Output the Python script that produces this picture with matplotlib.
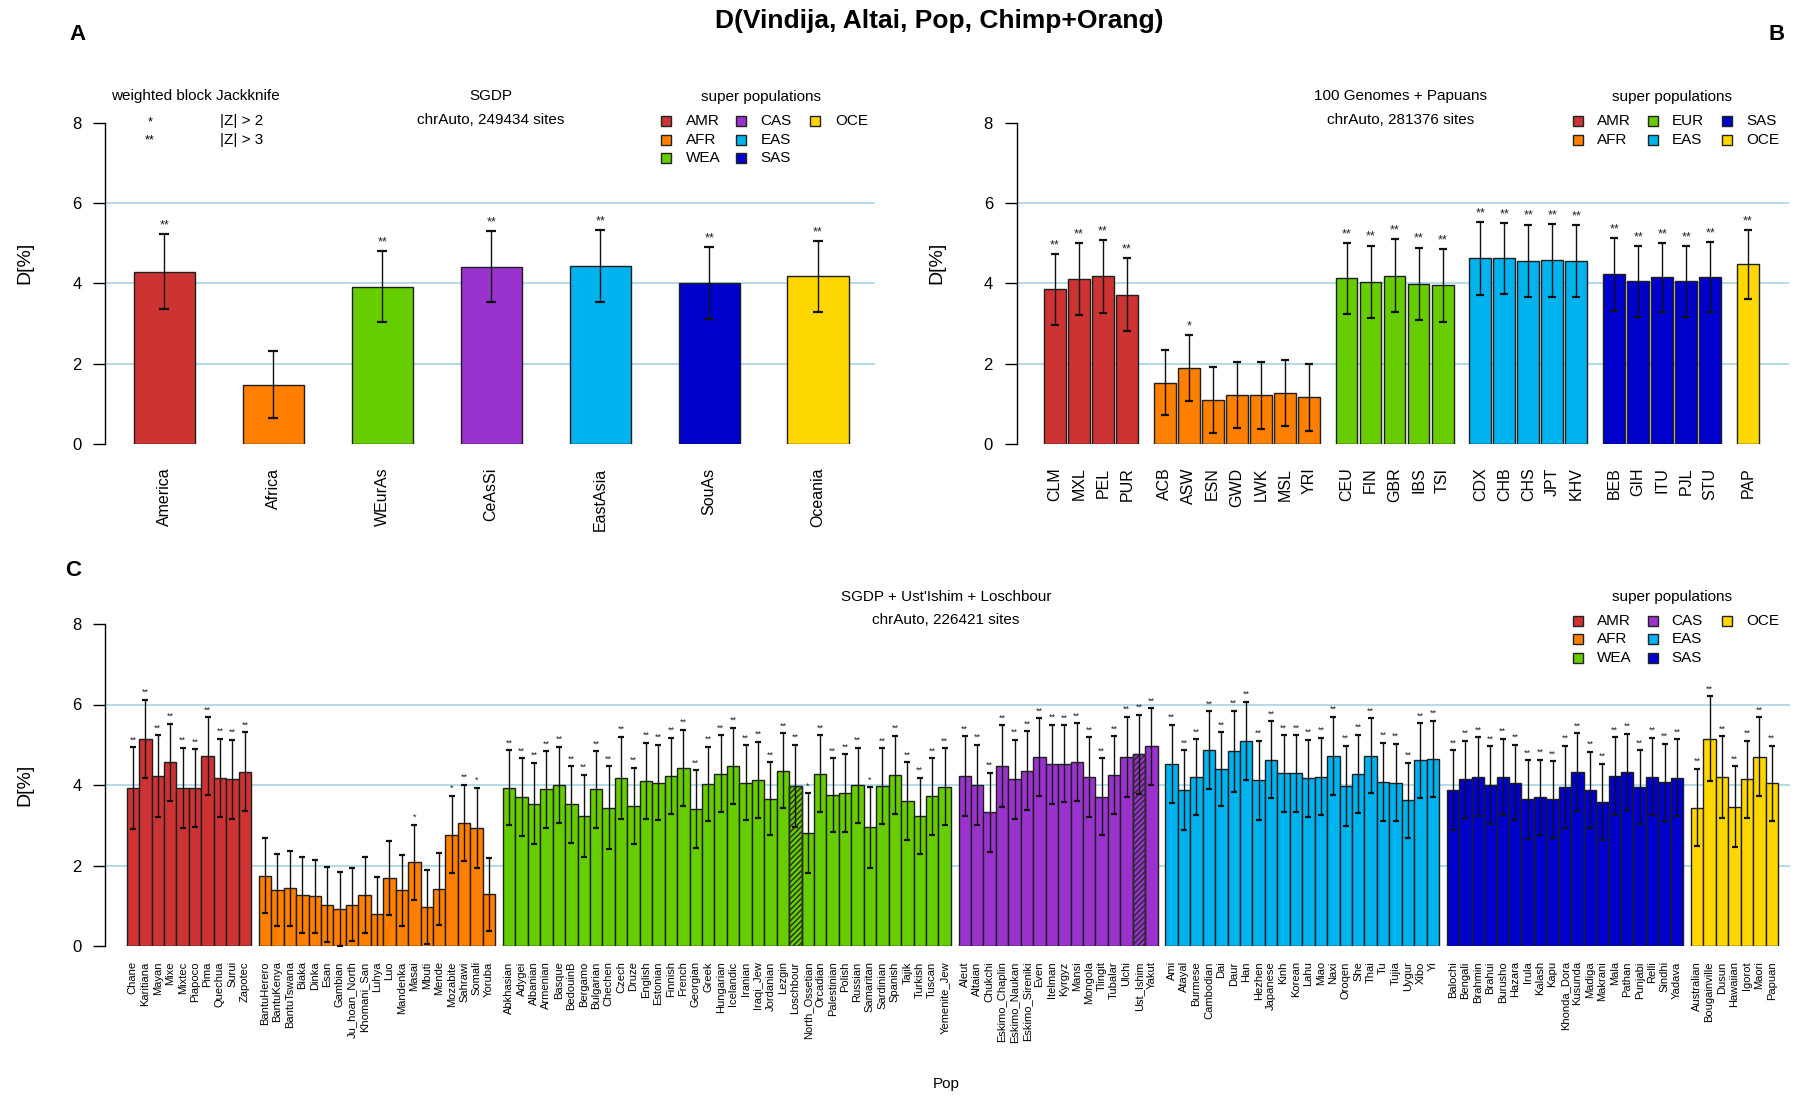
import matplotlib
matplotlib.use('Agg')
import matplotlib.pyplot as plt
from matplotlib.patches import Rectangle

plt.rcParams['font.family'] = ['Liberation Sans', 'DejaVu Sans']

W, H = 1796, 1096

# super population colours (R colour names)
colors = {'AMR': '#CD3333', 'AFR': '#FF7F00', 'WEA': '#66CD00', 'EUR': '#66CD00',
          'CAS': '#9A32CD', 'EAS': '#00B2EE', 'SAS': '#0000CD', 'OCE': '#FFD700'}

# ---------------- panel A : SGDP regions ----------------
a_pops = ['America', 'Africa', 'WEurAs', 'CeAsSi', 'EastAsia', 'SouAs', 'Oceania']
a_sup = ['AMR', 'AFR', 'WEA', 'CAS', 'EAS', 'SAS', 'OCE']
a_d = [4.29, 1.48, 3.92, 4.41, 4.43, 4.00, 4.17]
a_se = [0.93, 0.83, 0.89, 0.88, 0.90, 0.90, 0.88]

# ---------------- panel B : 1000 Genomes + Papuans ----------------
b_amr = ['CLM', 'MXL', 'PEL', 'PUR']
b_amr_d = [3.85, 4.11, 4.17, 3.72]
b_amr_se = [0.88, 0.89, 0.90, 0.90]
b_afr = ['ACB', 'ASW', 'ESN', 'GWD', 'LWK', 'MSL', 'YRI']
b_afr_d = [1.53, 1.89, 1.10, 1.23, 1.21, 1.27, 1.16]
b_afr_se = [0.81, 0.83, 0.82, 0.82, 0.83, 0.81, 0.83]
b_eur = ['CEU', 'FIN', 'GBR', 'IBS', 'TSI']
b_eur_d = [4.12, 4.04, 4.19, 3.99, 3.95]
b_eur_se = [0.88, 0.90, 0.91, 0.90, 0.91]
b_eas = ['CDX', 'CHB', 'CHS', 'JPT', 'KHV']
b_eas_d = [4.62, 4.62, 4.56, 4.57, 4.55]
b_eas_se = [0.90, 0.88, 0.90, 0.90, 0.90]
b_sas = ['BEB', 'GIH', 'ITU', 'PJL', 'STU']
b_sas_d = [4.22, 4.05, 4.15, 4.05, 4.15]
b_sas_se = [0.90, 0.88, 0.86, 0.88, 0.87]
b_oce = ['PAP']
b_oce_d = [4.47]
b_oce_se = [0.86]

# ---------------- panel C : SGDP + Ust'Ishim + Loschbour ----------------
c_amr = ['Chane', 'Karitiana', 'Mayan', 'Mixe', 'Mixtec', 'Piapoco', 'Pima', 'Quechua',
         'Surui', 'Zapotec']
c_amr_d = [3.92, 5.15, 4.22, 4.56, 3.92, 3.92, 4.71, 4.18, 4.14, 4.33]
c_amr_se = [1.02, 0.97, 1.02, 0.96, 1.00, 0.97, 0.97, 0.97, 0.98, 0.98]

c_afr = ['BantuHerero', 'BantuKenya', 'BantuTswana', 'Biaka', 'Dinka', 'Esan', 'Gambian',
         'Ju_hoan_North', 'Khomani_San', 'Luhya', 'Luo', 'Mandenka', 'Masai', 'Mbuti',
         'Mende', 'Mozabite', 'Sahrawi', 'Somali', 'Yoruba']
c_afr_d = [1.75, 1.39, 1.43, 1.27, 1.23, 1.03, 0.92, 1.03, 1.27, 0.79, 1.69, 1.38, 2.08,
           0.98, 1.42, 2.77, 3.06, 2.93, 1.28]
c_afr_se = [0.93, 0.89, 0.93, 0.94, 0.90, 0.93, 0.91, 0.91, 0.94, 0.92, 0.92, 0.89, 0.93,
            0.92, 0.89, 0.96, 0.94, 1.00, 0.90]

c_wea = ['Abkhasian', 'Adygei', 'Albanian', 'Armenian', 'Basque', 'BedouinB', 'Bergamo',
         'Bulgarian', 'Chechen', 'Czech', 'Druze', 'English', 'Estonian', 'Finnish',
         'French', 'Georgian', 'Greek', 'Hungarian', 'Icelandic', 'Iranian', 'Iraqi_Jew',
         'Jordanian', 'Lezgin', 'Loschbour', 'North_Ossetian', 'Orcadian', 'Palestinian',
         'Polish', 'Russian', 'Samaritan', 'Sardinian', 'Spanish', 'Tajik', 'Turkish',
         'Tuscan', 'Yemenite_Jew']
c_wea_d = [3.93, 3.70, 3.54, 3.89, 4.00, 3.52, 3.23, 3.89, 3.44, 4.18, 3.48, 4.10, 4.06,
           4.22, 4.43, 3.40, 4.03, 4.28, 4.47, 4.06, 4.12, 3.66, 4.35, 3.98, 2.80, 4.28,
           3.75, 3.79, 3.99, 2.95, 3.97, 4.25, 3.60, 3.23, 3.72, 3.96]
c_wea_se = [0.93, 0.96, 1.01, 0.95, 0.95, 0.95, 1.03, 0.95, 1.02, 1.02, 0.95, 0.95, 0.94,
            0.95, 0.94, 0.97, 0.92, 0.95, 0.95, 0.93, 0.95, 0.91, 0.93, 1.02, 0.99, 0.95,
            0.92, 0.97, 0.93, 1.00, 0.94, 0.97, 0.97, 0.95, 0.95, 0.95]

c_cas = ['Aleut', 'Altaian', 'Chukchi', 'Eskimo_Chaplin', 'Eskimo_Naukan', 'Eskimo_Sireniki',
         'Even', 'Itelman', 'Kyrgyz', 'Mansi', 'Mongola', 'Tlingit', 'Tubalar', 'Ulchi',
         'Ust_Ishim', 'Yakut']
c_cas_d = [4.22, 4.00, 3.32, 4.47, 4.14, 4.36, 4.69, 4.51, 4.53, 4.57, 4.20, 3.71, 4.25,
           4.70, 4.76, 4.96]
c_cas_se = [0.99, 1.00, 0.98, 1.01, 0.99, 0.97, 0.97, 0.99, 0.95, 0.97, 0.99, 0.95, 0.96,
            1.00, 0.98, 0.95]

c_eas = ['Ami', 'Atayal', 'Burmese', 'Cambodian', 'Dai', 'Daur', 'Han', 'Hezhen', 'Japanese',
         'Kinh', 'Korean', 'Lahu', 'Miao', 'Naxi', 'Oroqen', 'She', 'Thai', 'Tu', 'Tujia',
         'Uygur', 'Xibo', 'Yi']
c_eas_d = [4.53, 3.87, 4.20, 4.86, 4.39, 4.84, 5.10, 4.12, 4.63, 4.29, 4.29, 4.17, 4.21,
           4.73, 3.98, 4.28, 4.73, 4.08, 4.06, 3.62, 4.61, 4.65]
c_eas_se = [0.97, 0.99, 0.94, 0.97, 0.92, 1.01, 0.97, 0.98, 0.95, 0.95, 0.95, 0.96, 0.96,
            0.97, 1.00, 0.97, 0.93, 0.97, 0.96, 0.93, 0.93, 0.95]

c_sas = ['Balochi', 'Bengali', 'Brahmin', 'Brahui', 'Burusho', 'Hazara', 'Irula', 'Kalash',
         'Kapu', 'Khonda_Dora', 'Kusunda', 'Madiga', 'Makrani', 'Mala', 'Pathan', 'Punjabi',
         'Relli', 'Sindhi', 'Yadava']
c_sas_d = [3.87, 4.14, 4.21, 4.00, 4.20, 4.06, 3.64, 3.69, 3.64, 3.95, 4.32, 3.88, 3.58,
           4.22, 4.32, 3.95, 4.21, 4.07, 4.18]
c_sas_se = [0.99, 0.96, 0.98, 0.96, 0.95, 0.94, 0.97, 0.94, 0.95, 1.03, 0.97, 0.94, 0.95,
            0.97, 0.95, 0.91, 0.96, 0.96, 0.96]

c_oce = ['Australian', 'Bougainville', 'Dusun', 'Hawaiian', 'Igorot', 'Maori', 'Papuan']
c_oce_d = [3.44, 5.15, 4.20, 3.46, 4.14, 4.70, 4.04]
c_oce_se = [0.96, 1.05, 1.01, 1.01, 0.96, 0.98, 0.94]

ancient = ['Loschbour', 'Ust_Ishim']


def fx(px):
    return px / W


def fy(py):
    return 1 - py / H


def stars(d, se):
    z = d / se
    return '**' if z > 3 else ('*' if z > 2 else '')


def draw_bars(ax, groups, inner, gap, capsize, star_fs, lab_fs, lab_pad, lpad, rpad):
    xs, vals, errs, cols, labs = [], [], [], [], []
    x = 0.0
    for sup, pops, d, se in groups:
        for p, v, e in zip(pops, d, se):
            xs.append(x + 0.5)
            vals.append(v)
            errs.append(e)
            cols.append(colors[sup])
            labs.append(p)
            x += 1 + inner
        x += gap - inner
    span = x - gap

    for y in (2, 4, 6):
        ax.axhline(y, color='#ADD8E6', lw=1.3, zorder=0)
    ax.bar(xs, vals, width=1.0, color=cols, edgecolor='#1e1e1e', linewidth=1.0, zorder=2)
    for xi, v, lab in zip(xs, vals, labs):
        if lab in ancient:
            ax.bar(xi, v, width=1.0, facecolor='none', edgecolor='#2a2a2a', hatch='//////',
                   linewidth=1.0, zorder=3)
    ax.errorbar(xs, vals, yerr=errs, fmt='none', ecolor='#111111', elinewidth=1.0,
                capsize=capsize, capthick=1.6, zorder=4)
    for xi, v, e in zip(xs, vals, errs):
        s = stars(v, e)
        if s:
            ax.annotate(s, (xi, v + e), xytext=(0, 2), textcoords='offset points',
                        ha='center', va='bottom', fontsize=star_fs, color='#222222')

    ax.set_xticks(xs)
    ax.set_xticklabels(labs, rotation=90, fontsize=lab_fs, va='top', ha='center')
    ax.tick_params(axis='x', length=0, pad=lab_pad)
    ax.set_xlim(-lpad, span + rpad)
    ax.set_ylim(0, 8)
    ax.set_yticks([0, 2, 4, 6, 8])
    ax.tick_params(axis='y', labelsize=12, length=9, width=1.0, pad=8)
    for sp in ('top', 'right', 'bottom'):
        ax.spines[sp].set_visible(False)
    ax.spines['left'].set_bounds(0, 8)
    ax.spines['left'].set_linewidth(1.0)


def draw_legend(fig, title_xy, sq_x, lab_x, rows_y, entries):
    fig.text(fx(title_xy[0]), fy(title_xy[1]), 'super populations', ha='center',
             va='center', fontsize=11)
    for col, row, key in entries:
        fig.add_artist(Rectangle((fx(sq_x[col] - 5), fy(rows_y[row] + 5)), 10 / W, 10 / H,
                                 transform=fig.transFigure, facecolor=colors[key],
                                 edgecolor='#222222', lw=1.0))
        fig.text(fx(lab_x[col]), fy(rows_y[row]), key, ha='left', va='center', fontsize=11)


fig = plt.figure(figsize=(W / 100, H / 100), dpi=100)

# panel A
ax_a = fig.add_axes([fx(105), fy(444), (875 - 105) / W, (444 - 122.6) / H])
draw_bars(ax_a, [(s, [p], [d], [e]) for s, p, d, e in zip(a_sup, a_pops, a_d, a_se)],
          inner=0.0, gap=0.78, capsize=3.5, star_fs=9, lab_fs=11.5, lab_pad=17,
          lpad=0.47, rpad=0.43)

# panel B
ax_b = fig.add_axes([fx(1016.5), fy(444), (1789 - 1016.5) / W, (444 - 122.6) / H])
draw_bars(ax_b, [('AMR', b_amr, b_amr_d, b_amr_se), ('AFR', b_afr, b_afr_d, b_afr_se),
                 ('EUR', b_eur, b_eur_d, b_eur_se), ('EAS', b_eas, b_eas_d, b_eas_se),
                 ('SAS', b_sas, b_sas_d, b_sas_se), ('OCE', b_oce, b_oce_d, b_oce_se)],
          inner=0.1, gap=0.73, capsize=3.0, star_fs=9, lab_fs=11.5, lab_pad=17,
          lpad=1.26, rpad=1.38)

# panel C
ax_c = fig.add_axes([fx(105), fy(946), (1790 - 105) / W, (946 - 624) / H])
draw_bars(ax_c, [('AMR', c_amr, c_amr_d, c_amr_se), ('AFR', c_afr, c_afr_d, c_afr_se),
                 ('WEA', c_wea, c_wea_d, c_wea_se), ('CAS', c_cas, c_cas_d, c_cas_se),
                 ('EAS', c_eas, c_eas_d, c_eas_se), ('SAS', c_sas, c_sas_d, c_sas_se),
                 ('OCE', c_oce, c_oce_d, c_oce_se)],
          inner=0.0, gap=0.62, capsize=2.0, star_fs=6.5, lab_fs=8, lab_pad=11,
          lpad=1.74, rpad=0.96)

for py in (263, 785):
    pass
fig.text(fx(25), fy(263), 'D[%]', rotation=90, ha='center', va='center', fontsize=14)
fig.text(fx(937), fy(263), 'D[%]', rotation=90, ha='center', va='center', fontsize=14)
fig.text(fx(25), fy(785), 'D[%]', rotation=90, ha='center', va='center', fontsize=14)
fig.text(fx(946), fy(1084), 'Pop', ha='center', va='center', fontsize=11)

# titles and panel letters
fig.text(fx(939), fy(21), 'D(Vindija, Altai, Pop, Chimp+Orang)', ha='center', va='center',
         fontsize=19, fontweight='bold')
fig.text(fx(77), fy(34), 'A', ha='center', va='center', fontsize=16, fontweight='bold')
fig.text(fx(1777), fy(34), 'B', ha='center', va='center', fontsize=16, fontweight='bold')
fig.text(fx(73), fy(570), 'C', ha='center', va='center', fontsize=16, fontweight='bold')

# panel A annotations
fig.text(fx(195), fy(96), 'weighted block Jackknife', ha='center', va='center', fontsize=11)
fig.text(fx(150), fy(122), '*', ha='center', va='center', fontsize=9)
fig.text(fx(150), fy(140), '**', ha='center', va='center', fontsize=9)
fig.text(fx(220), fy(121), '|Z| > 2', ha='left', va='center', fontsize=11)
fig.text(fx(220), fy(140), '|Z| > 3', ha='left', va='center', fontsize=11)
fig.text(fx(491), fy(96), 'SGDP', ha='center', va='center', fontsize=11)
fig.text(fx(491), fy(120), 'chrAuto, 249434 sites', ha='center', va='center', fontsize=11)
draw_legend(fig, (760.6, 96.5), [666, 740.5, 815], [686, 760.6, 835], [120.7, 139.7, 158],
            [(0, 0, 'AMR'), (0, 1, 'AFR'), (0, 2, 'WEA'), (1, 0, 'CAS'), (1, 1, 'EAS'),
             (1, 2, 'SAS'), (2, 0, 'OCE')])

# panel B annotations
fig.text(fx(1401), fy(96), '100 Genomes + Papuans', ha='center', va='center', fontsize=11)
fig.text(fx(1401), fy(120), 'chrAuto, 281376 sites', ha='center', va='center', fontsize=11)
draw_legend(fig, (1672, 96.5), [1578, 1652.5, 1727], [1597, 1671.5, 1746], [120.7, 139.7],
            [(0, 0, 'AMR'), (0, 1, 'AFR'), (1, 0, 'EUR'), (1, 1, 'EAS'), (2, 0, 'SAS'),
             (2, 1, 'OCE')])

# panel C annotations
fig.text(fx(946), fy(597), "SGDP + Ust'Ishim + Loschbour", ha='center', va='center',
         fontsize=11)
fig.text(fx(946), fy(620), 'chrAuto, 226421 sites', ha='center', va='center', fontsize=11)
draw_legend(fig, (1672, 597), [1578, 1652.5, 1727], [1597, 1671.5, 1746], [620.7, 639.3, 657.7],
            [(0, 0, 'AMR'), (0, 1, 'AFR'), (0, 2, 'WEA'), (1, 0, 'CAS'), (1, 1, 'EAS'),
             (1, 2, 'SAS'), (2, 0, 'OCE')])

fig.savefig('out.png', dpi=100)
